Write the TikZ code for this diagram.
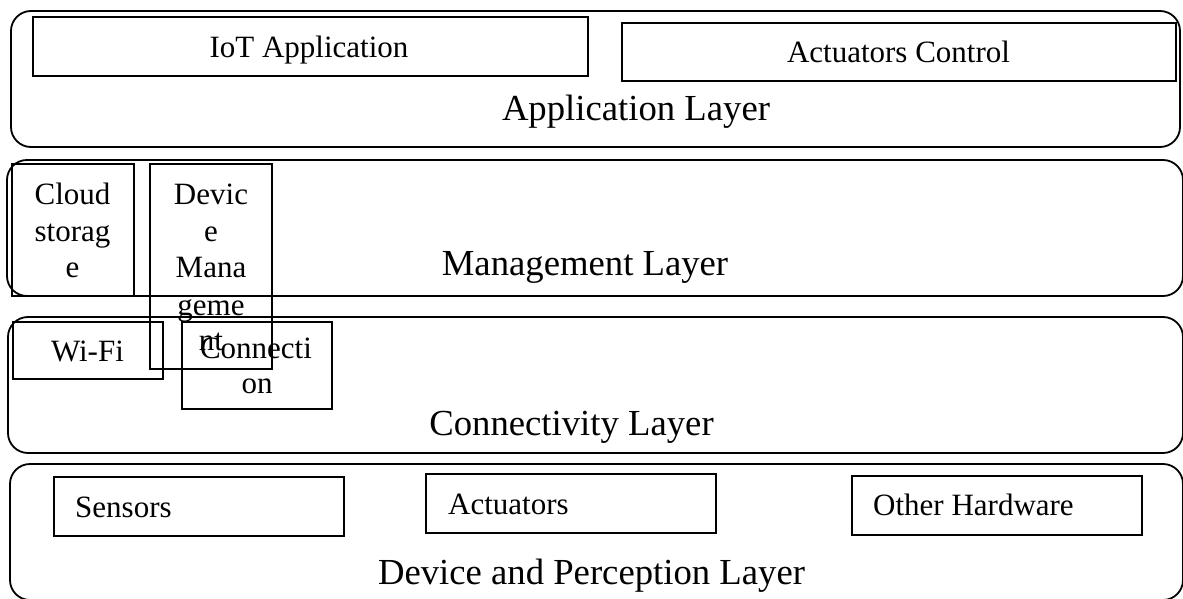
\documentclass[tikz,border=0pt]{standalone}
\usepackage{fontspec}
\setmainfont{Liberation Serif}
\begin{document}
\begin{tikzpicture}[x=1pt,y=-1pt,
  layer/.style={draw, rounded corners=20pt, line width=1.8pt, inner sep=0pt},
  box/.style={draw, line width=1.8pt, inner sep=0pt},
  big/.style={font=\fontsize{36.7}{44}\selectfont, inner sep=0pt},
  small/.style={font=\fontsize{31}{37}\selectfont, inner sep=0pt}]
\useasboundingbox (0,0) rectangle (1183,599);
\clip (0,0) rectangle (1183,599);
% layers
\node[layer, minimum width=1169, minimum height=136] (app) at (595.5,79) {};
\node[layer, minimum width=1176, minimum height=136] (mgmt) at (595,228) {};
\node[layer, minimum width=1175, minimum height=136] (conn) at (595.5,385) {};
\node[layer, minimum width=1173, minimum height=136] (dev) at (596.5,532) {};
% boxes
\node[box, minimum width=555, minimum height=59] (iot) at (310.5,46.5) {};
\node[box, minimum width=554, minimum height=58] (actc) at (899,52) {};
\node[box, minimum width=122, minimum height=132] (cloud) at (73,230) {};
\node[box, minimum width=122, minimum height=205] (devm) at (211,266.5) {};
\node[box, minimum width=150, minimum height=57] (wifi) at (88,350.5) {};
\node[box, minimum width=150, minimum height=87] (connb) at (257,365.5) {};
\node[box, minimum width=290, minimum height=59] (sens) at (199,506.5) {};
\node[box, minimum width=290, minimum height=59] (act) at (571,503.5) {};
\node[box, minimum width=290, minimum height=59] (oth) at (997,505.5) {};
% texts
\node[small, anchor=base] (tiot) at (309,58) {IoT Application};
\node[small, anchor=base] (tactc) at (898.5,63) {Actuators Control};
\node[big, anchor=base] (tapp) at (636,121) {Application Layer};
\node[big, anchor=base] (tmgmt) at (585,275) {Management Layer};
\node[big, anchor=base] (tconn) at (571.5,435) {Connectivity Layer};
\node[big, anchor=base] (tdev) at (591.5,584) {Device and Perception Layer};
\node[small, anchor=base] (c1) at (72.5,204.5) {Cloud};
\node[small, anchor=base] (c2) at (72.5,241) {storag};
\node[small, anchor=base] (c3) at (72.5,277.5) {e};
\node[small, anchor=base] (d1) at (211,204.5) {Devic};
\node[small, anchor=base] (d2) at (211,241) {e};
\node[small, anchor=base] (d3) at (211,277.5) {Mana};
\node[small, anchor=base] (d4) at (211,315) {geme};
\node[small, anchor=base] (d5) at (211,350.5) {nt};
\node[small, anchor=base] (twifi) at (87.5,361) {Wi-Fi};
\node[small, anchor=base] (cn1) at (256,358) {Connecti};
\node[small, anchor=base] (cn2) at (257,393) {on};
\node[small, anchor=base west] (tsens) at (75,517) {Sensors};
\node[small, anchor=base west] (tact) at (448,514) {Actuators};
\node[small, anchor=base west] (toth) at (873,515) {Other Hardware};
\end{tikzpicture}
\end{document}
